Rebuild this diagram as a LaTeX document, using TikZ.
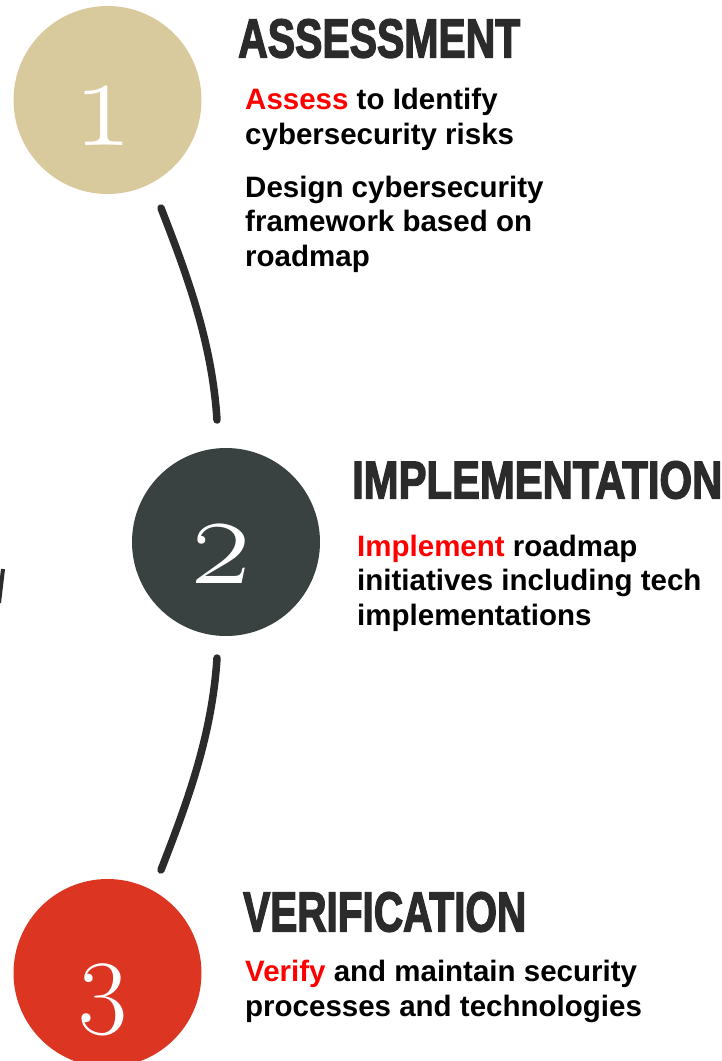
\documentclass[tikz,border=0pt]{standalone}
\usepackage{fontspec}
\usepackage{graphicx}
\setmainfont{Liberation Sans}
\newfontfamily\titlefont{Liberation Sans}[BoldFeatures={FakeBold=3}]
\newfontfamily\numfont{Latin Modern Roman}[Numbers=OldStyle]
\definecolor{beigec}{HTML}{D9CA9E}
\definecolor{slatec}{HTML}{394240}
\definecolor{redc}{HTML}{DC3522}
\definecolor{inkc}{HTML}{2B2B2B}
\definecolor{hotred}{HTML}{FF0000}
\tikzset{
  bubble/.style={circle, inner sep=0pt, minimum size=188pt},
  numtext/.style={anchor=base, text=white, inner sep=0pt, font=\numfont\fontsize{128}{128}\selectfont},
  heading/.style={anchor=south west, inner sep=0pt, text=inkc, font=\titlefont\bfseries},
  bodytext/.style={anchor=base west, inner sep=0pt, align=left, text=black, font=\bfseries\fontsize{29.5}{34.5}\selectfont},
  arcline/.style={draw=inkc, line width=7.5pt, line cap=round}
}
\newcommand{\hl}[1]{\textcolor{hotred}{#1}}
\begin{document}
\begin{tikzpicture}[x=1pt,y=-1pt]
\useasboundingbox (0,0) rectangle (722,1061);
\clip (0,0) rectangle (722,1061);

% circles
\node[bubble, fill=beigec] (c1) at (107.5,100) {};
\node[bubble, fill=slatec] (c2) at (226,542) {};
\node[bubble, fill=redc] (c3) at (107.5,973) {};

\node[numtext] (n1) at (104,145) {1};
\node[numtext] (n2) at (221,583) {2};
\node[numtext, font=\numfont\fontsize{107}{107}\selectfont] (n3) at (103,1013) {3};

% arcs
\coordinate (a1s) at (161,208);
\coordinate (a1e) at (217,420);
\coordinate (a2s) at (217,658);
\coordinate (a2e) at (161,870);
\draw[arcline] (a1s) .. controls (185,270) and (212,340) .. (a1e);
\draw[arcline] (a2s) .. controls (212,738) and (185,808) .. (a2e);
\coordinate (a3s) at (3,569);
\coordinate (a3e) at (-1,603);
\draw[draw=inkc, line width=4pt] (a3s) -- (a3e);

% headings
\node[heading] (h1) at (238,58) {\resizebox{282pt}{38pt}{ASSESSMENT}};
\node[heading] (h2) at (352,499) {\resizebox{370pt}{37pt}{IMPLEMENTATION}};
\node[heading] (h3) at (243,932) {\resizebox{283pt}{39pt}{VERIFICATION}};

% body texts (anchored at the baseline of the last line)
\node[bodytext] (t1) at (245,144) {\hl{Assess} to Identify\\cybersecurity risks};
\node[bodytext] (t2) at (245,266) {Design cybersecurity\\framework based on\\roadmap};
\node[bodytext] (t3) at (357,625) {\hl{Implement} roadmap\\initiatives including tech\\implementations};
\node[bodytext] (t4) at (245,1016) {\hl{Verify} and maintain security\\processes and technologies};
\end{tikzpicture}
\end{document}
